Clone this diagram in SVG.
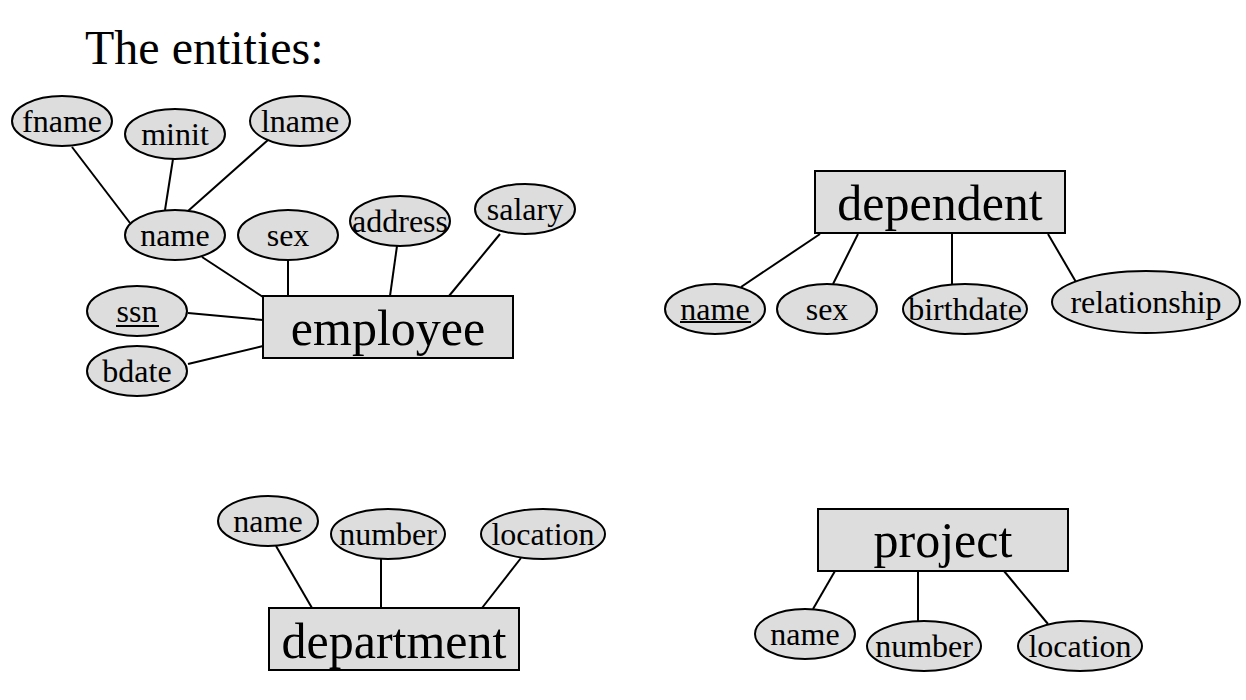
<svg xmlns="http://www.w3.org/2000/svg" width="1246" height="700" viewBox="0 0 1246 700">
<style>
.a{fill:#dddddd;stroke:#000;stroke-width:2}
.e{fill:#dddddd;stroke:#000;stroke-width:2}
.t{font-family:"Liberation Serif","Times New Roman",serif;font-size:32px;text-anchor:middle;fill:#000}
.big{font-family:"Liberation Serif","Times New Roman",serif;font-size:50px;text-anchor:middle;fill:#000}
.title{font-family:"Liberation Serif","Times New Roman",serif;font-size:48px;fill:#000}
.c line{stroke:#000;stroke-width:2}
.u{stroke:#000;stroke-width:2}
</style>
<rect width="1246" height="700" fill="#fff"/>
<text class="title" x="85" y="64">The entities:</text>
<g id="connectors" class="c">
<line x1="72" y1="147" x2="130" y2="223"/>
<line x1="173" y1="159" x2="165" y2="210"/>
<line x1="268" y1="140" x2="188" y2="211"/>
<line x1="202" y1="257" x2="263" y2="297"/>
<line x1="288" y1="260" x2="288" y2="296"/>
<line x1="397" y1="246" x2="390" y2="296"/>
<line x1="500" y1="234" x2="449" y2="296"/>
<line x1="188" y1="313" x2="263" y2="320"/>
<line x1="188" y1="364" x2="263" y2="346"/>
<line x1="820" y1="234" x2="741" y2="287"/>
<line x1="858" y1="234" x2="833" y2="284"/>
<line x1="952" y1="234" x2="952" y2="284"/>
<line x1="1048" y1="234" x2="1076" y2="282"/>
<line x1="276" y1="546" x2="312" y2="608"/>
<line x1="381" y1="559" x2="381" y2="608"/>
<line x1="521" y1="558" x2="482" y2="608"/>
<line x1="835" y1="571" x2="813" y2="609"/>
<line x1="918" y1="571" x2="918" y2="621"/>
<line x1="1004" y1="571" x2="1048" y2="624"/>
</g>
<g id="employee"><rect class="e" x="263" y="296" width="250" height="62"/><text class="big" x="388" y="345">employee</text></g>
<g id="emp-fname"><ellipse class="a" cx="62" cy="121" rx="50" ry="25"/><text class="t" x="62" y="132">fname</text></g>
<g id="emp-minit"><ellipse class="a" cx="175" cy="134" rx="50" ry="25"/><text class="t" x="175" y="145">minit</text></g>
<g id="emp-lname"><ellipse class="a" cx="300" cy="121" rx="50" ry="25"/><text class="t" x="300" y="132">lname</text></g>
<g id="emp-name"><ellipse class="a" cx="175" cy="235" rx="50" ry="25"/><text class="t" x="175" y="246">name</text></g>
<g id="emp-sex"><ellipse class="a" cx="288" cy="235" rx="50" ry="25"/><text class="t" x="288" y="246">sex</text></g>
<g id="emp-address"><ellipse class="a" cx="400" cy="221" rx="50" ry="25"/><text class="t" x="400" y="232">address</text></g>
<g id="emp-salary"><ellipse class="a" cx="525" cy="209" rx="50" ry="25"/><text class="t" x="525" y="220">salary</text></g>
<g id="emp-ssn"><ellipse class="a" cx="137" cy="311" rx="50" ry="25"/><text class="t" x="137" y="322">ssn</text><line class="u" x1="116" y1="326" x2="159" y2="326"/></g>
<g id="emp-bdate"><ellipse class="a" cx="137" cy="371" rx="50" ry="25"/><text class="t" x="137" y="382">bdate</text></g>
<g id="dependent"><rect class="e" x="815" y="171" width="250" height="62"/><text class="big" x="940" y="220">dependent</text></g>
<g id="dep-name"><ellipse class="a" cx="715" cy="309" rx="50" ry="25"/><text class="t" x="715" y="320">name</text><line class="u" x1="680" y1="322" x2="751" y2="322"/></g>
<g id="dep-sex"><ellipse class="a" cx="827" cy="309" rx="50" ry="25"/><text class="t" x="827" y="320">sex</text></g>
<g id="dep-birthdate"><ellipse class="a" cx="965" cy="309" rx="62" ry="25"/><text class="t" x="965" y="320">birthdate</text></g>
<g id="dep-relationship"><ellipse class="a" cx="1146" cy="302" rx="94" ry="31"/><text class="t" x="1146" y="313">relationship</text></g>
<g id="department"><rect class="e" x="269" y="608" width="250" height="62"/><text class="big" x="394" y="658">department</text></g>
<g id="dept-name"><ellipse class="a" cx="268" cy="521" rx="50" ry="25"/><text class="t" x="268" y="532">name</text></g>
<g id="dept-number"><ellipse class="a" cx="388" cy="534" rx="57" ry="25"/><text class="t" x="388" y="545">number</text></g>
<g id="dept-location"><ellipse class="a" cx="543" cy="534" rx="62" ry="25"/><text class="t" x="543" y="545">location</text></g>
<g id="project"><rect class="e" x="818" y="509" width="250" height="62"/><text class="big" x="943" y="557">project</text></g>
<g id="proj-name"><ellipse class="a" cx="805" cy="634" rx="50" ry="25"/><text class="t" x="805" y="645">name</text></g>
<g id="proj-number"><ellipse class="a" cx="924" cy="646" rx="57" ry="25"/><text class="t" x="924" y="657">number</text></g>
<g id="proj-location"><ellipse class="a" cx="1080" cy="646" rx="62" ry="25"/><text class="t" x="1080" y="657">location</text></g>
</svg>
